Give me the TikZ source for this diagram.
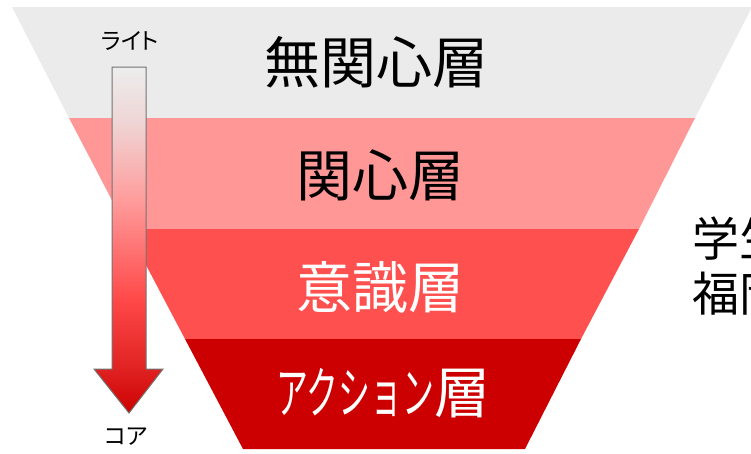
\documentclass[tikz,border=0pt]{standalone}
\usepackage{fontspec}
\setmainfont{Noto Sans CJK JP}
\newfontfamily\jp{Noto Sans CJK JP}
\newfontfamily\jpp[RawFeature=+palt]{Noto Sans CJK JP}
\definecolor{layA}{HTML}{EBEBEB}
\definecolor{layB}{HTML}{FF9797}
\definecolor{layC}{HTML}{FF5050}
\definecolor{layD}{HTML}{CC0000}
\definecolor{arA}{HTML}{CC0000}
\definecolor{arB}{HTML}{E02222}
\definecolor{arC}{HTML}{FF4848}
\definecolor{arD}{HTML}{FF9C9C}
\definecolor{arE}{HTML}{EFD6D6}
\definecolor{arF}{HTML}{EDEDED}
\pgfdeclareverticalshading{arrowshade}{100bp}{color(0bp)=(arA); color(25bp)=(arA); color(31.4bp)=(arB); color(41.3bp)=(arC); color(55.8bp)=(arD); color(67.3bp)=(arE); color(75bp)=(arF); color(100bp)=(arF)}
\begin{document}
\begin{tikzpicture}[x=1pt,y=-1pt,
  big/.style={inner sep=0pt, font=\jp\fontsize{56}{60}\selectfont},
  small/.style={inner sep=0pt, font=\jpp\fontsize{23}{26}\selectfont},
  side/.style={inner sep=0pt, align=left, anchor=north west, font=\jp\fontsize{47}{55}\selectfont}]
\useasboundingbox (0,0) rectangle (751,453);
% funnel layers
\fill[layA] (12,7) -- (752,7) -- (695,118) -- (69,118) -- cycle;
\fill[layB] (69,118) -- (695,118) -- (639,229) -- (127,229) -- cycle;
\fill[layC] (127,229) -- (639,229) -- (581,339) -- (185,339) -- cycle;
\fill[layD] (185,339) -- (581,339) -- (525,449) -- (243,449) -- cycle;
% layer labels
\node[big] (l1) at (376,62) {無関心層};
\node[big] (l2) at (380,175) {関心層};
\node[big, text=white] (l3) at (380,287) {意識層};
\node[big, text=white] (l4) at (383,393) {\scalebox{0.57}[1]{アクション}層};
% arrow
\shade[shading=arrowshade, draw=gray!90!black, line width=1pt]
  (112,67) -- (146,67) -- (146,369) -- (163,369) -- (129,413) -- (94,369) -- (112,369) -- cycle;
\node[small] (light) at (130,41) {ライト};
\node[small] (core) at (126,437) {コア};
% side text
\node[side] (st) at (692,217) {学生\\福岡};
\end{tikzpicture}
\end{document}
